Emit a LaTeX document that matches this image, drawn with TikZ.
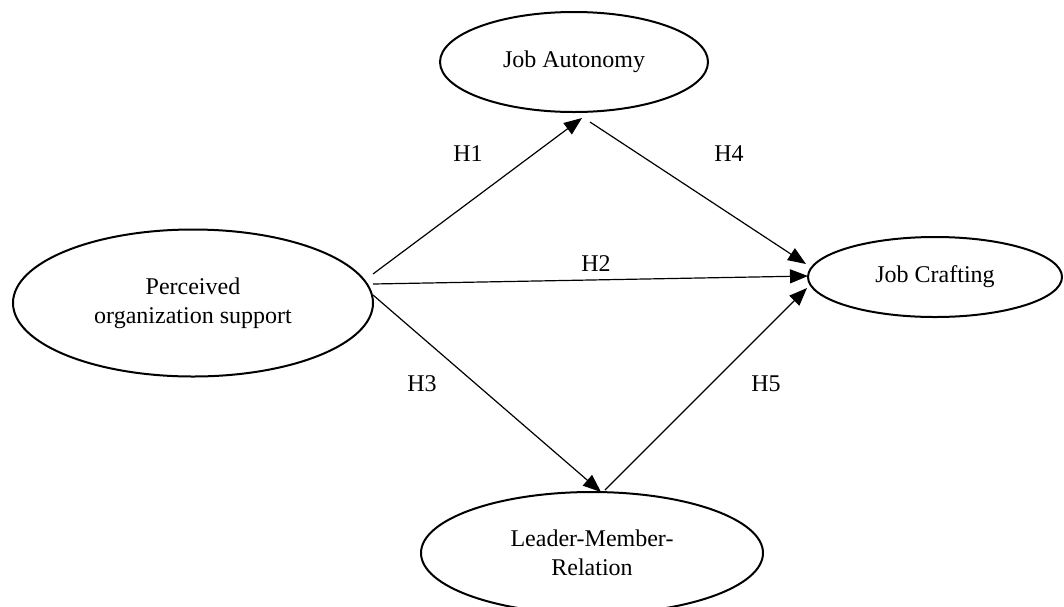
\documentclass[tikz,border=0pt]{standalone}
\usepackage{fontspec}
\setmainfont{Liberation Serif}
\usepackage{tikz}
\usetikzlibrary{shapes,shapes.geometric,arrows.meta,positioning}
\usepackage{xcolor}

\begin{document}
\begin{tikzpicture}[x=0.5pt,y=-0.5pt,
	  every node/.style={align=center,text=black,font=\fontsize{12}{14.4}\selectfont},
	  construct/.style={ellipse,draw=black,line width=1pt,inner sep=0pt},
	  path/.style={-{Triangle[length=9pt,width=7pt]},draw=black,line width=0.6pt},
	  hyp/.style={inner sep=1pt}]

	  \useasboundingbox (0,0) rectangle (1064,606);

	  % Position the constructs
	  \node[construct,minimum width=180pt,minimum height=73.5pt] (pos) at (193,303) {Perceived\\organization support};
	  \node[construct,minimum width=134pt,minimum height=50pt] (autonomy) at (574,62) {Job Autonomy};
	  \node[construct,minimum width=127pt,minimum height=40pt] (crafting) at (935,277) {Job Crafting};
	  \node[construct,minimum width=171pt,minimum height=61pt] (lmr) at (592,553) {Leader-Member-\\Relation};

	  % Free ends of the paths
	  \coordinate (posH1) at (373,274);
	  \coordinate (posH2) at (373,284);
	  \coordinate (posH3) at (373,295);
	  \coordinate (autonomyIn) at (582,118);
	  \coordinate (autonomyOut) at (590,122);
	  \coordinate (lmrIn) at (601,492);
	  \coordinate (lmrOut) at (605,490);
	  \coordinate (craftingH4) at (806,264);
	  \coordinate (craftingH2) at (808,276);
	  \coordinate (craftingH5) at (807,288);

	  \draw[path] (posH1) -- (autonomyIn);
	  \draw[path] (posH2) -- (craftingH2);
	  \draw[path] (posH3) -- (lmrIn);
	  \draw[path] (autonomyOut) -- (craftingH4);
	  \draw[path] (lmrOut) -- (craftingH5);

	  % Hypothesis labels
	  \node[hyp] (h1) at (468,154) {H1};
	  \node[hyp] (h2) at (596,264) {H2};
	  \node[hyp] (h3) at (422,384) {H3};
	  \node[hyp] (h4) at (729,154) {H4};
	  \node[hyp] (h5) at (766,384) {H5};
\end{tikzpicture}
\end{document}
